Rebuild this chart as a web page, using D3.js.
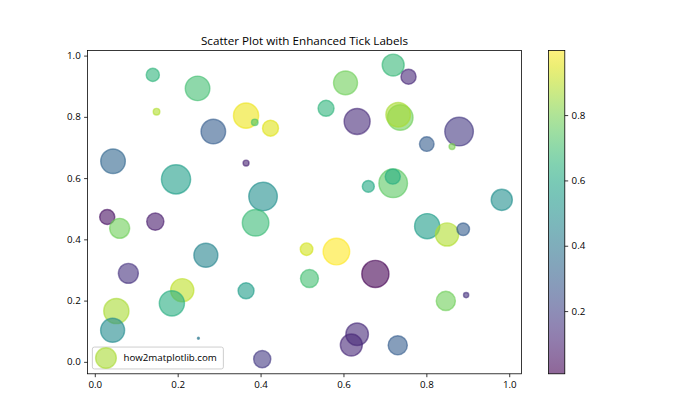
<!DOCTYPE html>
<html><head><meta charset="utf-8">
<script src="https://cdn.jsdelivr.net/npm/d3@7"></script>
<style>
html,body{margin:0;padding:0;background:#fff;}
text{font-family:"Open Sans","Noto Sans","DejaVu Sans",sans-serif;fill:#000;}
</style></head>
<body><svg id="c" width="700" height="420"></svg>
<script>
// ---- data ----
const xVals = [0.052,0.140,0.248,0.149,0.286,0.044,0.196,0.365,0.386,0.424,
  0.605,0.558,0.633,0.365,0.406,0.660,0.720,0.757,0.737,0.732,
  0.879,0.801,0.862,0.720,0.719,0.982,0.030,0.060,0.146,0.268,
  0.081,0.211,0.186,0.043,0.250,0.388,0.511,0.583,0.518,0.365,
  0.677,0.633,0.619,0.404,0.802,0.850,0.889,0.847,0.896,0.731];
const yVals = [0.166,0.937,0.893,0.817,0.752,0.655,0.596,0.804,0.782,0.763,
  0.911,0.828,0.785,0.649,0.540,0.573,0.969,0.931,0.798,0.807,
  0.752,0.711,0.703,0.583,0.605,0.529,0.473,0.436,0.458,0.348,
  0.289,0.234,0.191,0.103,0.077,0.454,0.368,0.360,0.272,0.232,
  0.287,0.090,0.055,0.009,0.443,0.416,0.433,0.199,0.218,0.054];
const colorVals = [0.87,0.65,0.70,0.88,0.30,0.33,0.56,0.97,0.72,0.95,
  0.78,0.65,0.13,0.10,0.50,0.60,0.67,0.12,0.78,0.87,
  0.17,0.30,0.80,0.75,0.62,0.50,0.05,0.78,0.08,0.45,
  0.15,0.90,0.62,0.48,0.40,0.68,0.93,0.998,0.70,0.55,
  0.008,0.13,0.12,0.18,0.55,0.88,0.30,0.78,0.15,0.30];
const sizeVals = [668,183,637,45,637,637,898,668,45,269,
  606,269,712,37,861,151,509,242,690,637,
  861,224,37,861,242,473,242,420,311,606,
  420,566,668,606,4,745,166,745,340,269,
  779,537,509,311,668,566,166,387,28,387];
const axisTicks = [0.0,0.2,0.4,0.6,0.8,1.0];
const cbarTicks = [0.2,0.4,0.6,0.8];
const titleText = "Scatter Plot with Enhanced Tick Labels";
const legendLabel = "how2matplotlib.com";

// ---- layout ----
const S = 0.7;                 // figure scale
const PX = S*100/72;           // points -> pixels
const L = 87.5, R = 521.5, T = 50.4, B = 373.8;
const CB = {x0:548.6, x1:564.8};
const fs = 10*PX, tfs = 12*PX, tickLen = 3.5*PX, tickPad = 3.5*PX;

const svg = d3.select("#c");
svg.append("rect").attr("width",700).attr("height",420).attr("fill","#fff");

const pts = xVals.map((x,i)=>({x, y:yVals[i], c:colorVals[i], s:sizeVals[i]}));

function padded(arr){const [a,b]=d3.extent(arr);const p=(b-a)*0.05;return [a-p,b+p];}
const x = d3.scaleLinear().domain(padded(xVals)).range([L,R]);
const y = d3.scaleLinear().domain(padded(yVals)).range([B,T]);
const cExt = d3.extent(colorVals);
const color = d3.scaleSequential(d3.interpolateViridis).domain(cExt);
const rScale = s => Math.sqrt(s)/2*PX;
const lw = 1.5*PX;

// points
const g = svg.append("g");
g.selectAll("circle").data(pts).join("circle")
  .attr("cx",d=>x(d.x)).attr("cy",d=>y(d.y)).attr("r",d=>rScale(d.s))
  .attr("fill",d=>color(d.c)).attr("fill-opacity",0.6)
  .attr("stroke",d=>color(d.c)).attr("stroke-opacity",0.6).attr("stroke-width",lw);

// axes
const xAxis = d3.axisBottom(x).tickValues(axisTicks).tickFormat(d3.format(".1f"))
  .tickSizeInner(tickLen).tickSizeOuter(0).tickPadding(tickPad);
const yAxis = d3.axisLeft(y).tickValues(axisTicks).tickFormat(d3.format(".1f"))
  .tickSizeInner(tickLen).tickSizeOuter(0).tickPadding(tickPad);
const gx = svg.append("g").attr("transform",`translate(0,${B})`).call(xAxis);
const gy = svg.append("g").attr("transform",`translate(${L},0)`).call(yAxis);
[gx,gy].forEach(a=>{
  a.select(".domain").remove();
  a.selectAll("line").attr("stroke","#000").attr("stroke-width",0.8*PX);
  a.selectAll("text").style("font-size",fs+"px").attr("fill","#000");
});
// spines
svg.append("rect").attr("x",L).attr("y",T).attr("width",R-L).attr("height",B-T)
  .attr("fill","none").attr("stroke","#000").attr("stroke-width",0.8*PX);

// title
svg.append("text").attr("x",(L+R)/2).attr("y",T-6*PX).attr("text-anchor","middle")
  .style("font-size",tfs+"px").text(titleText);

// legend
const legSize = (d3.max(sizeVals)+d3.min(sizeVals))/2;
const pad = 0.5*fs;
const lg = svg.append("g");
const lx = L+pad, lyB = B-pad;
const lh = 0.4*fs*2 + fs*1.45;
const textW = 96;
const lw2 = 0.4*fs*2 + 2*fs + 0.8*fs + textW;
lg.append("rect").attr("x",lx).attr("y",lyB-lh).attr("width",lw2).attr("height",lh)
  .attr("rx",2).attr("fill","#fff").attr("fill-opacity",0.8)
  .attr("stroke","#cccccc").attr("stroke-width",1*PX);
const mcx = lx+0.4*fs+fs, mcy = lyB-lh/2;
lg.append("circle").attr("cx",mcx).attr("cy",mcy).attr("r",rScale(legSize))
  .attr("fill",color(colorVals[0])).attr("fill-opacity",0.6)
  .attr("stroke",color(colorVals[0])).attr("stroke-opacity",0.6).attr("stroke-width",lw);
lg.append("text").attr("x",lx+0.4*fs+2*fs+0.8*fs).attr("y",mcy).attr("dy","0.35em")
  .style("font-size",fs+"px").text(legendLabel);

// colorbar
const cy = d3.scaleLinear().domain(cExt).range([B,T]);
const defs = svg.append("defs");
const grad = defs.append("linearGradient").attr("id","vg").attr("x1",0).attr("y1",1).attr("x2",0).attr("y2",0);
d3.range(0,1.0001,0.05).forEach(t=>{
  grad.append("stop").attr("offset",t).attr("stop-color",d3.interpolateViridis(t)).attr("stop-opacity",0.6);
});
svg.append("rect").attr("x",CB.x0).attr("y",T).attr("width",CB.x1-CB.x0).attr("height",B-T)
  .attr("fill","url(#vg)");
svg.append("rect").attr("x",CB.x0).attr("y",T).attr("width",CB.x1-CB.x0).attr("height",B-T)
  .attr("fill","none").attr("stroke","#000").attr("stroke-width",0.8*PX);
const cAxis = d3.axisRight(cy).tickValues(cbarTicks).tickFormat(d3.format(".1f"))
  .tickSizeInner(tickLen).tickSizeOuter(0).tickPadding(tickPad);
const gc = svg.append("g").attr("transform",`translate(${CB.x1},0)`).call(cAxis);
gc.select(".domain").remove();
gc.selectAll("line").attr("stroke","#000").attr("stroke-width",0.8*PX);
gc.selectAll("text").style("font-size",fs+"px").attr("fill","#000");
</script></body></html>
